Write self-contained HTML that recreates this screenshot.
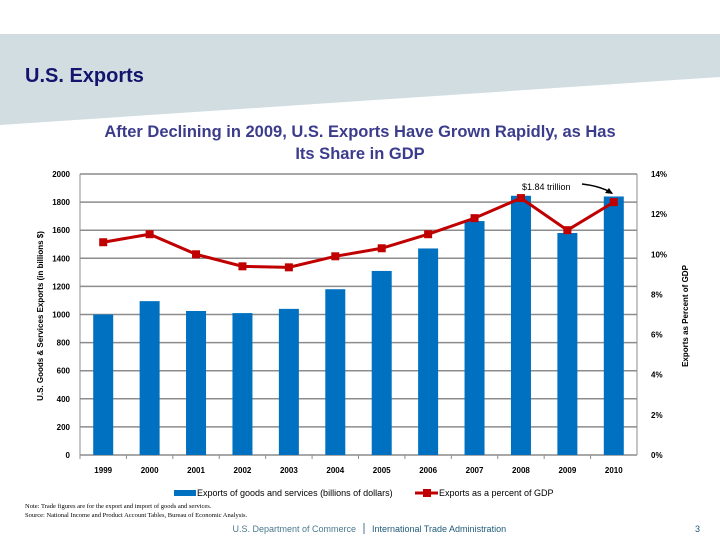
<!DOCTYPE html>
<html><head><meta charset="utf-8"><style>
body{margin:0;width:720px;height:540px;overflow:hidden;background:#fff;font-family:"Liberation Sans",sans-serif;}
svg{display:block}
</style></head><body>
<svg id="s" width="720" height="540" xmlns="http://www.w3.org/2000/svg">
<polygon points="0,34 720,34 720,77 0,125" fill="#d1dde0"/>
<text x="25" y="82" font-size="20" font-weight="bold" fill="#14146e">U.S. Exports</text>
<text x="360" y="137" font-size="16.5" font-weight="bold" fill="#3c3c8c" text-anchor="middle">After Declining in 2009, U.S. Exports Have Grown Rapidly, as Has</text>
<text x="360" y="159" font-size="16.5" font-weight="bold" fill="#3c3c8c" text-anchor="middle">Its Share in GDP</text>
<g id="chart"></g>
<text x="43" y="316" font-size="8" font-weight="bold" fill="#000" text-anchor="middle" transform="rotate(-90 43 316)">U.S. Goods &amp; Services Exports (in billions $)</text>
<text x="688" y="316" font-size="8" font-weight="bold" fill="#000" text-anchor="middle" transform="rotate(-90 688 316)">Exports as Percent of GDP</text>
<text x="522" y="190" font-size="9" fill="#000">$1.84 trillion</text>
<path d="M582,184 Q600,186 612,193" stroke="#000" stroke-width="1.5" fill="none"/>
<polygon points="613,194 605,193 609,188" fill="#000"/>
<g>
<rect x="174" y="490" width="22" height="6" fill="#0070c0"/>
<text x="197" y="496" font-size="9" fill="#000">Exports of goods and services (billions of dollars)</text>
<line x1="415" y1="493" x2="438" y2="493" stroke="#c00000" stroke-width="3"/>
<rect x="423" y="489" width="8" height="8" fill="#c00000"/>
<text x="439" y="496" font-size="9" fill="#000">Exports as a percent of GDP</text>
</g>
<text x="25" y="508" font-size="6.5" font-family="Liberation Serif,serif" fill="#000">Note:  Trade figures are for the export and import of goods and services.</text>
<text x="25" y="517" font-size="6.5" font-family="Liberation Serif,serif" fill="#000">Source:  National Income and Product Account Tables, Bureau of Economic Analysis.</text>
<text x="356" y="532" font-size="9" fill="#4a7a90" text-anchor="end">U.S. Department of Commerce</text>
<line x1="364" y1="523" x2="364" y2="534" stroke="#4a7a90" stroke-width="1"/>
<text x="372" y="532" font-size="9" fill="#1e5a78">International Trade Administration</text>
<text x="700" y="532" font-size="9" fill="#1e5a78" text-anchor="end">3</text>
</svg>
<script>
const categories=['1999','2000','2001','2002','2003','2004','2005','2006','2007','2008','2009','2010'];
const exportsBillions=[1000,1095,1025,1010,1040,1180,1310,1470,1665,1845,1580,1840];
const pctGDP=[10.6,11.0,10.0,9.4,9.35,9.9,10.3,11.0,11.8,12.8,11.2,12.6];
const leftTicks=[0,200,400,600,800,1000,1200,1400,1600,1800,2000];
const rightTicks=[0,2,4,6,8,10,12,14];
const NS='http://www.w3.org/2000/svg';
const g=document.getElementById('chart');
const X0=80,X1=637,YT=174,YB=455;
const bw=(X1-X0)/categories.length;
const xc=i=>X0+bw*(i+0.5);
const yL=v=>YB-(v/2000)*(YB-YT);
const yR=v=>YB-(v/14)*(YB-YT);
function mk(t,a){const e=document.createElementNS(NS,t);for(const k in a)e.setAttribute(k,a[k]);g.appendChild(e);return e;}
leftTicks.forEach(v=>{
 const l=mk('line',{x1:X0,x2:X1,y1:yL(v),y2:yL(v),stroke:'#8c8c8c','stroke-width':1.5});
 
 
 const t=mk('text',{x:X0-10,y:yL(v)+3,'font-size':8,'font-weight':'bold','text-anchor':'end'});t.textContent=v;
 
 
});
rightTicks.forEach(v=>{
 const t=mk('text',{x:X1+14,y:yR(v)+3,'font-size':8,'font-weight':'bold'});t.textContent=v+'%';
 
 
});
const la=mk('line',{x1:X0,x2:X0,y1:YT,y2:YB,stroke:'#8c8c8c','stroke-width':1});


const ra=mk('line',{x1:X1,x2:X1,y1:YT,y2:YB,stroke:'#8c8c8c','stroke-width':1});


categories.forEach((c,i)=>{
 const v=exportsBillions[i];
 const r=mk('rect',{x:xc(i)-10,y:yL(v),width:20,height:YB-yL(v),fill:'#0070c0'});
 
 
 const t=mk('text',{x:xc(i),y:473,'font-size':8,'font-weight':'bold','text-anchor':'middle'});t.textContent=c;
 
 
 const tk=mk('line',{x1:X0+bw*i,x2:X0+bw*i,y1:YB,y2:YB+4,stroke:'#8c8c8c'});
 
 
});
const pl=mk('polyline',{points:pctGDP.map((v,i)=>xc(i)+','+yR(v)).join(' '),fill:'none',stroke:'#c00000','stroke-width':3});


pctGDP.forEach((v,i)=>{
 const m=mk('rect',{x:xc(i)-4,y:yR(v)-4,width:8,height:8,fill:'#c00000'});
 
 
});
</script>
</body></html>
